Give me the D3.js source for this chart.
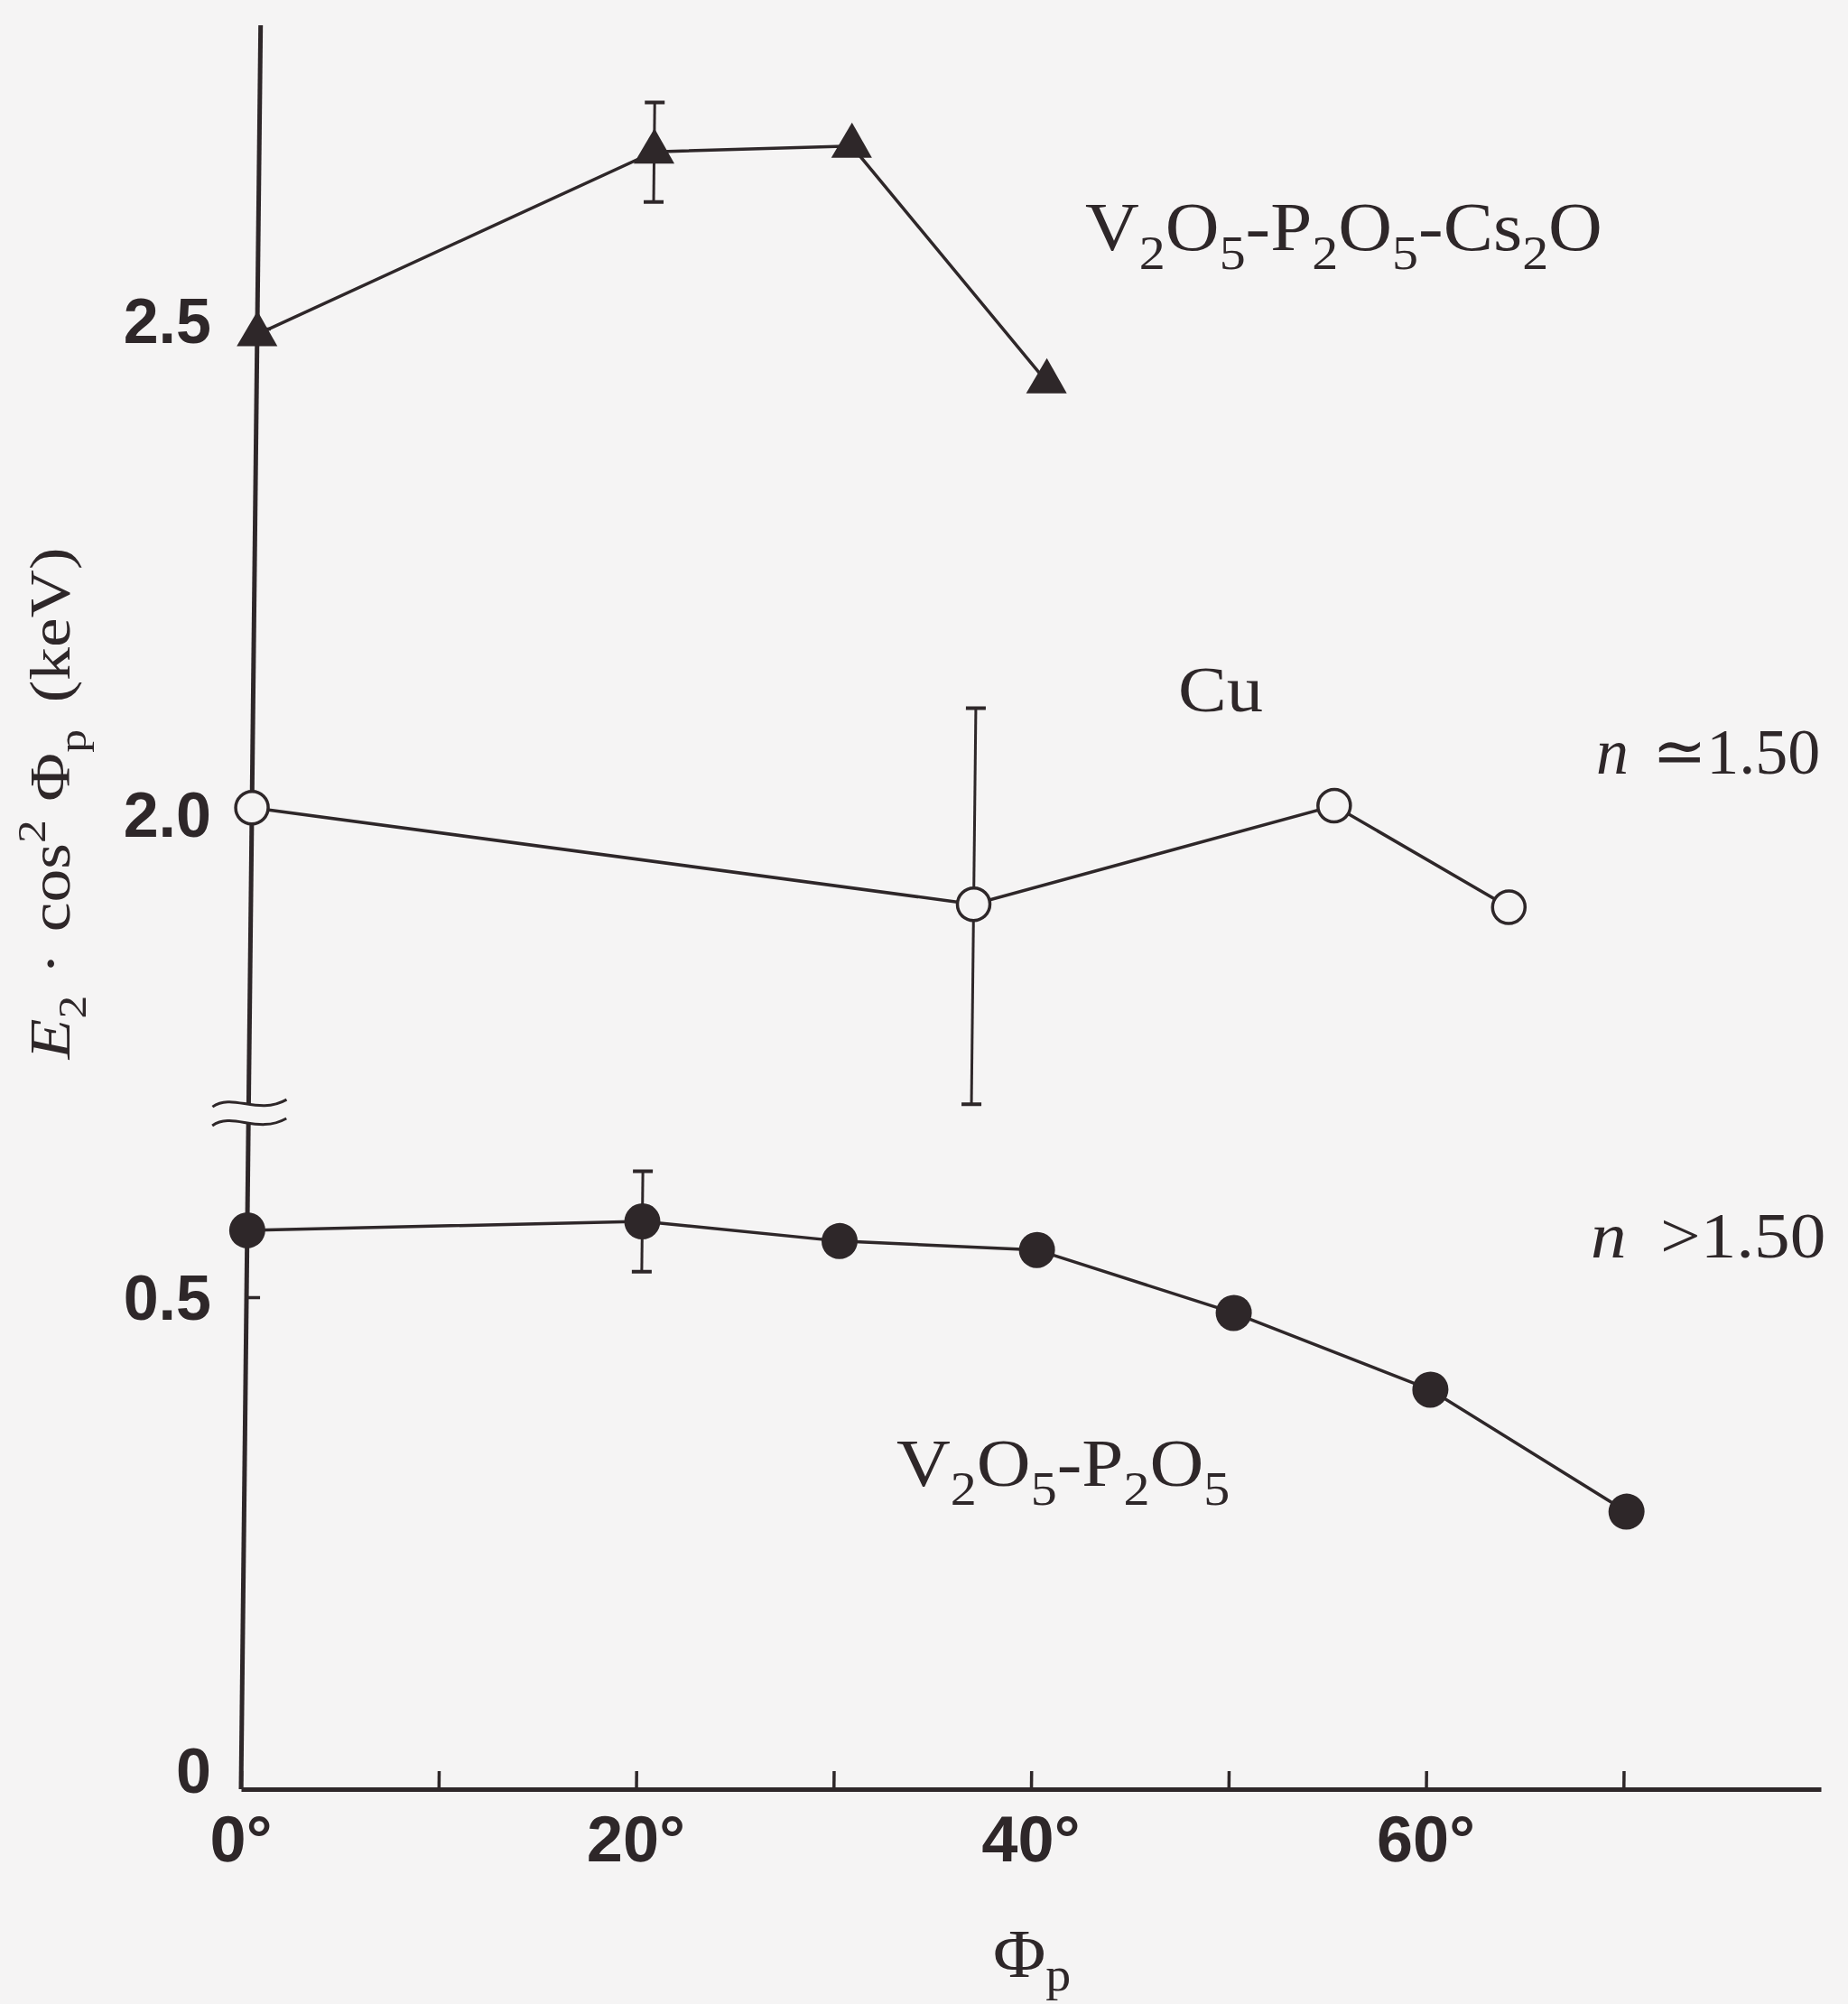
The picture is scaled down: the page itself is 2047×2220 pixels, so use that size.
<!DOCTYPE html>
<html lang="en">
<head>
<meta charset="UTF-8">
<title>E2 cos2 Phi_p versus Phi_p</title>
<script src="https://cdn.jsdelivr.net/npm/d3@7/dist/d3.min.js"></script>
<style>
body {
    margin: 0;
    background: #f5f4f4;
}
svg { display: block; }
.tick-label {
    font-family: 'Liberation Sans', Arial, sans-serif;
    font-weight: bold;
    fill: #2e2729;
}
.serif {
    font-family: 'Liberation Serif', 'DejaVu Serif', serif;
    fill: #2e2729;
    white-space: pre;
}
</style>
</head>
<body>
<div id="chart"></div>
<script>
// Data (angle in degrees, value in keV)
const csAngle = [0, 20, 30, 40];                 // V2O5-P2O5-Cs2O (filled triangles)
const csValue = [2.494, 2.683, 2.689, 2.445];
const csErrAngle = [20];
const csErrLow = [2.631];
const csErrHigh = [2.734];

const cuAngle = [0, 36.6, 54.8, 63.7];           // Cu (open circles)
const cuValue = [2.004, 1.904, 2.006, 1.901];
const cuErrAngle = [36.6];
const cuErrLow = [1.697];
const cuErrHigh = [2.107];

const vpAngle = [0, 20, 30, 40, 50, 60, 70];     // V2O5-P2O5 (filled circles)
const vpValue = [0.568, 0.577, 0.557, 0.548, 0.484, 0.406, 0.282];
const vpErrAngle = [20];
const vpErrLow = [0.526];
const vpErrHigh = [0.628];

// Axes
const xTicks = [0, 10, 20, 30, 40, 50, 60, 70];
const xTickLabels = [0, 20, 40, 60];
const yLowTicks = [0, 0.5];
const yLowLabels = ["0", "0.5"];
const yUpTicks = [2.0, 2.5];
const yUpLabels = ["2.0", "2.5"];
const xMax = 80;
const yLowBreak = 0.678, yUpBreak = 1.698, yUpTop = 2.814;

// Layout
const width = 2047, height = 2220;
const ink = "#2e2729", paper = "#f5f4f4";
const baseY = 1982;

const x = d3.scaleLinear().domain([0, xMax]).range([267, 2017]);
const yLow = d3.scaleLinear().domain([0, 0.5]).range([baseY, 1437]);
const yUp = d3.scaleLinear().domain([2.0, 2.5]).range([899, 364]);

const svg = d3.select("#chart").append("svg")
    .attr("width", width).attr("height", height);

// the scanned figure leans slightly: y axis drifts right as it goes up
const plot = svg.append("g")
    .attr("transform", `translate(0,${baseY}) skewX(-0.636) translate(0,${-baseY})`);

// x axis
const xAxis = plot.append("g")
    .attr("transform", `translate(0,${baseY})`)
    .call(d3.axisBottom(x).tickValues(xTicks).tickSize(-20).tickSizeOuter(0)
        .tickFormat(d => xTickLabels.includes(d) ? d + "°" : ""));
xAxis.select(".domain").attr("stroke", ink).attr("stroke-width", 5);
xAxis.selectAll(".tick line").attr("stroke", ink).attr("stroke-width", 3.5);
xAxis.selectAll(".tick text")
    .attr("class", "tick-label")
    .attr("font-size", 72)
    .attr("y", 80)
    .attr("dy", 0);

// y axis, two segments with a break
const axisLine = d3.line().x(d => x(0)).y(d => d);
plot.append("path")
    .attr("d", axisLine([yLow(0), yLow(yLowBreak)]))
    .attr("stroke", ink).attr("stroke-width", 5).attr("fill", "none");
plot.append("path")
    .attr("d", axisLine([yUp(yUpBreak), yUp(yUpTop)]))
    .attr("stroke", ink).attr("stroke-width", 5).attr("fill", "none");

const yAxisLow = plot.append("g").attr("transform", `translate(${x(0)},0)`)
    .call(d3.axisLeft(yLow).tickValues(yLowTicks.filter(d => d > 0)).tickSize(-15).tickFormat(""));
const yAxisUp = plot.append("g").attr("transform", `translate(${x(0)},0)`)
    .call(d3.axisLeft(yUp).tickValues(yUpTicks).tickSize(-15).tickFormat(""));
[yAxisLow, yAxisUp].forEach(a => {
    a.select(".domain").remove();
    a.selectAll(".tick line").attr("stroke", ink).attr("stroke-width", 3.5);
});

// break marks
[yLow(yLowBreak), yUp(yUpBreak)].forEach(by => {
    const cx = x(0);
    plot.append("path")
        .attr("d", `M${cx - 40},${by + 4} C${cx - 18},${by - 12} ${cx + 10},${by + 14} ${cx + 42},${by - 4}`)
        .attr("stroke", ink).attr("stroke-width", 3).attr("fill", "none");
});

// y tick labels (upright, not leaning)
const yLabelG = svg.append("g");
yLowTicks.forEach((t, i) => {
    yLabelG.append("text").attr("class", "tick-label")
        .attr("x", x(0) - 33).attr("y", yLow(t) + (t === 0 ? 4 : 25))
        .attr("text-anchor", "end").attr("font-size", 70).text(yLowLabels[i]);
});
yUpTicks.forEach((t, i) => {
    yLabelG.append("text").attr("class", "tick-label")
        .attr("x", x(0) - 33).attr("y", yUp(t) + (t === 2.5 ? 16 : 28))
        .attr("text-anchor", "end").attr("font-size", 70).text(yUpLabels[i]);
});

// series
function drawSeries(angles, values, yScale) {
    const pts = angles.map((a, i) => [x(a), yScale(values[i])]);
    plot.append("path")
        .attr("d", d3.line()(pts))
        .attr("stroke", ink).attr("stroke-width", 3.5).attr("fill", "none");
    return pts;
}
function drawErrors(angles, lows, highs, yScale) {
    angles.forEach((a, i) => {
        const ex = x(a), y1 = yScale(lows[i]), y2 = yScale(highs[i]);
        plot.append("line").attr("x1", ex).attr("x2", ex).attr("y1", y1).attr("y2", y2)
            .attr("stroke", ink).attr("stroke-width", 3);
        [y1, y2].forEach(cy => plot.append("line")
            .attr("x1", ex - 11).attr("x2", ex + 11).attr("y1", cy).attr("y2", cy)
            .attr("stroke", ink).attr("stroke-width", 4));
    });
}

const csPts = drawSeries(csAngle, csValue, yUp);
drawErrors(csErrAngle, csErrLow, csErrHigh, yUp);
plot.selectAll(".tri").data(csPts).enter().append("path")
    .attr("transform", d => `translate(${d[0]},${d[1]})`)
    .attr("d", d3.symbol(d3.symbolTriangle, 880))
    .attr("fill", ink);

const cuPts = drawSeries(cuAngle, cuValue, yUp);
drawErrors(cuErrAngle, cuErrLow, cuErrHigh, yUp);
plot.selectAll(".ocirc").data(cuPts).enter().append("circle")
    .attr("cx", d => d[0]).attr("cy", d => d[1]).attr("r", 18)
    .attr("fill", paper).attr("stroke", ink).attr("stroke-width", 3.5);

const vpPts = drawSeries(vpAngle, vpValue, yLow);
drawErrors(vpErrAngle, vpErrLow, vpErrHigh, yLow);
plot.selectAll(".fcirc").data(vpPts).enter().append("circle")
    .attr("cx", d => d[0]).attr("cy", d => d[1]).attr("r", 20)
    .attr("fill", ink);

// text with sub/superscripts; sx widens the glyphs toward the wider typeface of the figure
function rich(parent, px, py, parts, size, sx, anchor, subShift) {
    const g = parent.append("g").attr("transform", `translate(${px},${py}) scale(${sx || 1},1)`);
    const t = g.append("text").attr("class", "serif")
        .attr("font-size", size)
        .attr("text-anchor", anchor || "start");
    const sub = subShift || 0.28;
    let shift = 0;
    parts.forEach(p => {
        const target = p.s === "sub" ? size * sub : p.s === "sup" ? -size * 0.42 : 0;
        t.append("tspan")
            .attr("dy", target - shift)
            .attr("dx", p.dx || null)
            .attr("font-size", p.s ? size * 0.7 : size)
            .attr("font-style", p.i ? "italic" : null)
            .text(p.t);
        shift = target;
    });
    return t;
}

rich(svg, 1202, 277, [
    {t: "V"}, {t: "2", s: "sub"}, {t: "O"}, {t: "5", s: "sub"}, {t: "-P"}, {t: "2", s: "sub"},
    {t: "O"}, {t: "5", s: "sub"}, {t: "-Cs"}, {t: "2", s: "sub"}, {t: "O"}], 76, 1.09);
rich(svg, 993, 1646, [
    {t: "V"}, {t: "2", s: "sub"}, {t: "O"}, {t: "5", s: "sub"}, {t: "-P"}, {t: "2", s: "sub"},
    {t: "O"}, {t: "5", s: "sub"}], 74, 1.12);
rich(svg, 1305, 788, [{t: "Cu"}], 72, 1.12);
rich(svg, 1768, 857, [{t: "n", i: true}, {t: "≃", dx: 26}, {t: "1.50"}], 72, 1.0);
rich(svg, 1762, 1393, [{t: "n", i: true}, {t: ">1.50", dx: 34}], 72, 1.1);

// axis titles
rich(svg, 1100, 2190, [{t: "Φ"}, {t: "p", s: "sub"}], 76, 1.05, "start", 0.2);
const yTitle = svg.append("g").attr("transform", "translate(77,890) rotate(-90)");
rich(yTitle, 0, 0, [
    {t: "E", i: true}, {t: "2", s: "sub"}, {t: "·", dx: 20}, {t: "cos", dx: 20}, {t: "2", s: "sup"},
    {t: "Φ", dx: 18}, {t: "p", s: "sub"}, {t: "(keV)", dx: 26}], 64, 1.15, "middle");
</script>
</body>
</html>
